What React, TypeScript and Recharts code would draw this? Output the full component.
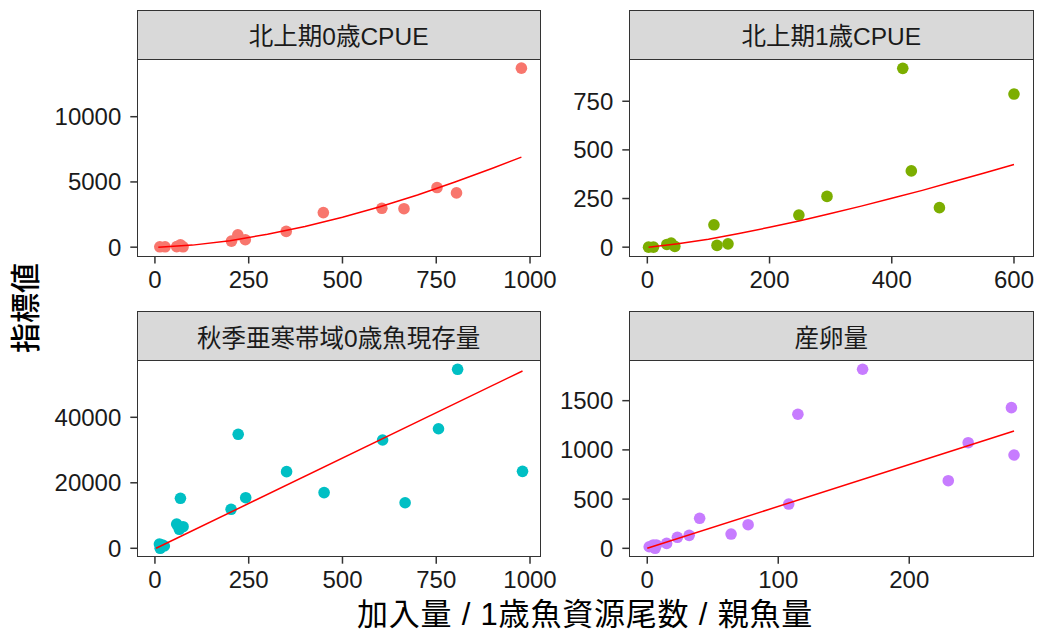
import React from "react";
import { ScatterChart, Scatter, XAxis, YAxis } from "recharts";

// ---- Data ----
const stripLabels = ["北上期0歳CPUE", "北上期1歳CPUE", "秋季亜寒帯域0歳魚現存量", "産卵量"];
const yTitle = "指標値";
const xTitle = "加入量 / 1歳魚資源尾数 / 親魚量";

const p1X = [13, 27, 58, 68, 75, 204, 221, 241, 350, 449, 605, 664, 752, 804, 977];
const p1Y = [30, 30, 40, 185, 30, 460, 950, 570, 1210, 2650, 2980, 2950, 4570, 4160, 13720];
const fit1X = [9, 100, 200, 300, 400, 500, 600, 700, 800, 900, 977];
const fit1Y = [3, 157, 500, 983, 1590, 2300, 3100, 4000, 5000, 6050, 6900];

const p2X = [2, 10, 32, 39, 45, 109, 114, 132, 248, 294, 418, 432, 478, 600];
const p2Y = [0, 0, 14, 21, 4, 115, 9, 17, 165, 261, 919, 392, 203, 787];
const fit2X = [2, 50, 100, 150, 200, 250, 300, 350, 400, 450, 500, 550, 600];
const fit2Y = [0, 17, 41, 70, 102, 136, 173, 211, 251, 292, 336, 380, 425];

const p3X = [12, 14, 25, 20, 58, 65, 68, 75, 203, 222, 242, 351, 451, 607, 667, 756, 807, 980];
const p3Y = [1300, 0, 700, 1000, 7400, 5800, 15270, 6600, 11900, 34800, 15450, 23400, 17000, 33070, 13900, 36500, 54650, 23500];
const fit3X = [3, 980];
const fit3Y = [0, 54140];

const p4X = [1.5, 4.6, 7, 6, 14.8, 23, 32, 40, 64, 77, 108, 115, 164.4, 229.8, 245, 278, 280];
const p4Y = [16, 34, 34, 0, 50, 112, 132, 305, 145, 240, 450, 1362, 1819, 687, 1073, 1429, 948];
const fit4X = [0, 280];
const fit4Y = [0, 1192];

const xTicks1 = [0, 250, 500, 750, 1000];
const xTicks2 = [0, 200, 400, 600];
const xTicks4 = [0, 100, 200];
const yTicks1 = [0, 5000, 10000];
const yTicks2 = [0, 250, 500, 750];
const yTicks3 = [0, 20000, 40000];
const yTicks4 = [0, 500, 1000, 1500];

const colors = ["#F8766D", "#7CAE00", "#00BFC4", "#C77CFF"];

const zip = (xs: number[], ys: number[]) => xs.map((x, i) => ({ x, y: ys[i] }));

const FONT = "'Liberation Sans', Arial, 'Noto Sans CJK JP', sans-serif";
const DARK = "#333333";
const EXTRA_RIGHT = 40;

type PanelProps = {
  left: number;
  top: number;
  width: number;
  plotLeft: number;
  plotH: number;
  xDomain: [number, number];
  yDomain: [number, number];
  xTicks: number[];
  yTicks: number[];
  pts: { x: number; y: number }[];
  fit: { x: number; y: number }[];
  color: string;
  strip: string;
};

const Panel = (p: PanelProps) => {
  const xAxisH = 44;
  const plotW = p.width - p.plotLeft;
  const absLeft = p.left + p.plotLeft;
  return (
    <>
      <div
        style={{
          position: "absolute",
          left: absLeft - 0.75,
          top: p.top - 50,
          width: plotW + 1.5,
          height: 50,
          boxSizing: "border-box",
          background: "#D9D9D9",
          border: `1.5px solid ${DARK}`,
          display: "flex",
          alignItems: "center",
          justifyContent: "center",
          fontSize: 24.5,
          color: "#1A1A1A",
          fontFamily: FONT,
        }}
      >
        {p.strip}
      </div>
      <div style={{ position: "absolute", left: p.left, top: p.top }}>
        <ScatterChart
          width={p.width + EXTRA_RIGHT}
          height={p.plotH + xAxisH}
          margin={{ top: 0, right: EXTRA_RIGHT, bottom: 0, left: 0 }}
        >
          <XAxis
            type="number"
            dataKey="x"
            domain={p.xDomain}
            ticks={p.xTicks}
            interval={0}
            allowDataOverflow
            height={xAxisH}
            axisLine={false}
            tickSize={7}
            tickMargin={7}
            tickLine={{ stroke: DARK, strokeWidth: 1.5 }}
            tick={{ fontSize: 24, fill: "#1A1A1A", fontFamily: FONT }}
          />
          <YAxis
            type="number"
            dataKey="y"
            domain={p.yDomain}
            ticks={p.yTicks}
            interval={0}
            allowDataOverflow
            width={p.plotLeft}
            axisLine={false}
            tickSize={7}
            tickMargin={9}
            tickLine={{ stroke: DARK, strokeWidth: 1.5 }}
            tick={{ fontSize: 24, fill: "#1A1A1A", fontFamily: FONT }}
          />
          <Scatter
            data={p.pts}
            fill={p.color}
            isAnimationActive={false}
            shape={(s: any) => <circle cx={s.cx} cy={s.cy} r={5.8} fill={p.color} />}
          />
          <Scatter
            data={p.fit}
            isAnimationActive={false}
            line={{ stroke: "#FF0000", strokeWidth: 1.5 }}
            lineType="joint"
            stroke="#FF0000"
            shape={() => <g />}
          />
        </ScatterChart>
      </div>
      <div
        style={{
          position: "absolute",
          left: absLeft - 0.75,
          top: p.top - 0.75,
          width: plotW + 1.5,
          height: p.plotH + 1.5,
          boxSizing: "border-box",
          border: `1.5px solid ${DARK}`,
          pointerEvents: "none",
        }}
      />
    </>
  );
};

export default function App() {
  return (
    <div
      style={{
        position: "absolute",
        left: 0,
        top: 0,
        width: 1037,
        height: 633,
        background: "#FFFFFF",
        overflow: "hidden",
        fontFamily: FONT,
      }}
    >
      <Panel
        left={0}
        top={59.5}
        width={540}
        plotLeft={137.3}
        plotH={196.5}
        xDomain={[-47, 1026.6]}
        yDomain={[-715, 14346]}
        xTicks={xTicks1}
        yTicks={yTicks1}
        pts={zip(p1X, p1Y)}
        fit={zip(fit1X, fit1Y)}
        color={colors[0]}
        strip={stripLabels[0]}
      />
      <Panel
        left={540}
        top={59.5}
        width={493.3}
        plotLeft={89.3}
        plotH={196.5}
        xDomain={[-29.5, 631.6]}
        yDomain={[-48, 962]}
        xTicks={xTicks2}
        yTicks={yTicks2}
        pts={zip(p2X, p2Y)}
        fit={zip(fit2X, fit2Y)}
        color={colors[1]}
        strip={stripLabels[1]}
      />
      <Panel
        left={0}
        top={361}
        width={540}
        plotLeft={137.3}
        plotH={195.7}
        xDomain={[-47, 1026.6]}
        yDomain={[-2565, 57190]}
        xTicks={xTicks1}
        yTicks={yTicks3}
        pts={zip(p3X, p3Y)}
        fit={zip(fit3X, fit3Y)}
        color={colors[2]}
        strip={stripLabels[2]}
      />
      <Panel
        left={540}
        top={361}
        width={493.3}
        plotLeft={89.3}
        plotH={195.7}
        xDomain={[-13.7, 294.7]}
        yDomain={[-85, 1903]}
        xTicks={xTicks4}
        yTicks={yTicks4}
        pts={zip(p4X, p4Y)}
        fit={zip(fit4X, fit4Y)}
        color={colors[3]}
        strip={stripLabels[3]}
      />
      <div
        style={{
          position: "absolute",
          left: 26 - 100,
          top: 308 - 18,
          width: 200,
          height: 36,
          lineHeight: "36px",
          textAlign: "center",
          fontSize: 30,
          fontWeight: 500,
          color: "#000",
          transform: "rotate(-90deg)",
          whiteSpace: "nowrap",
        }}
      >
        {yTitle}
      </div>
      <div
        style={{
          position: "absolute",
          left: 585 - 300,
          top: 598,
          width: 600,
          height: 34,
          lineHeight: "34px",
          textAlign: "center",
          fontSize: 31,
          letterSpacing: 0.8,
          color: "#000",
          whiteSpace: "nowrap",
        }}
      >
        {xTitle}
      </div>
    </div>
  );
}
